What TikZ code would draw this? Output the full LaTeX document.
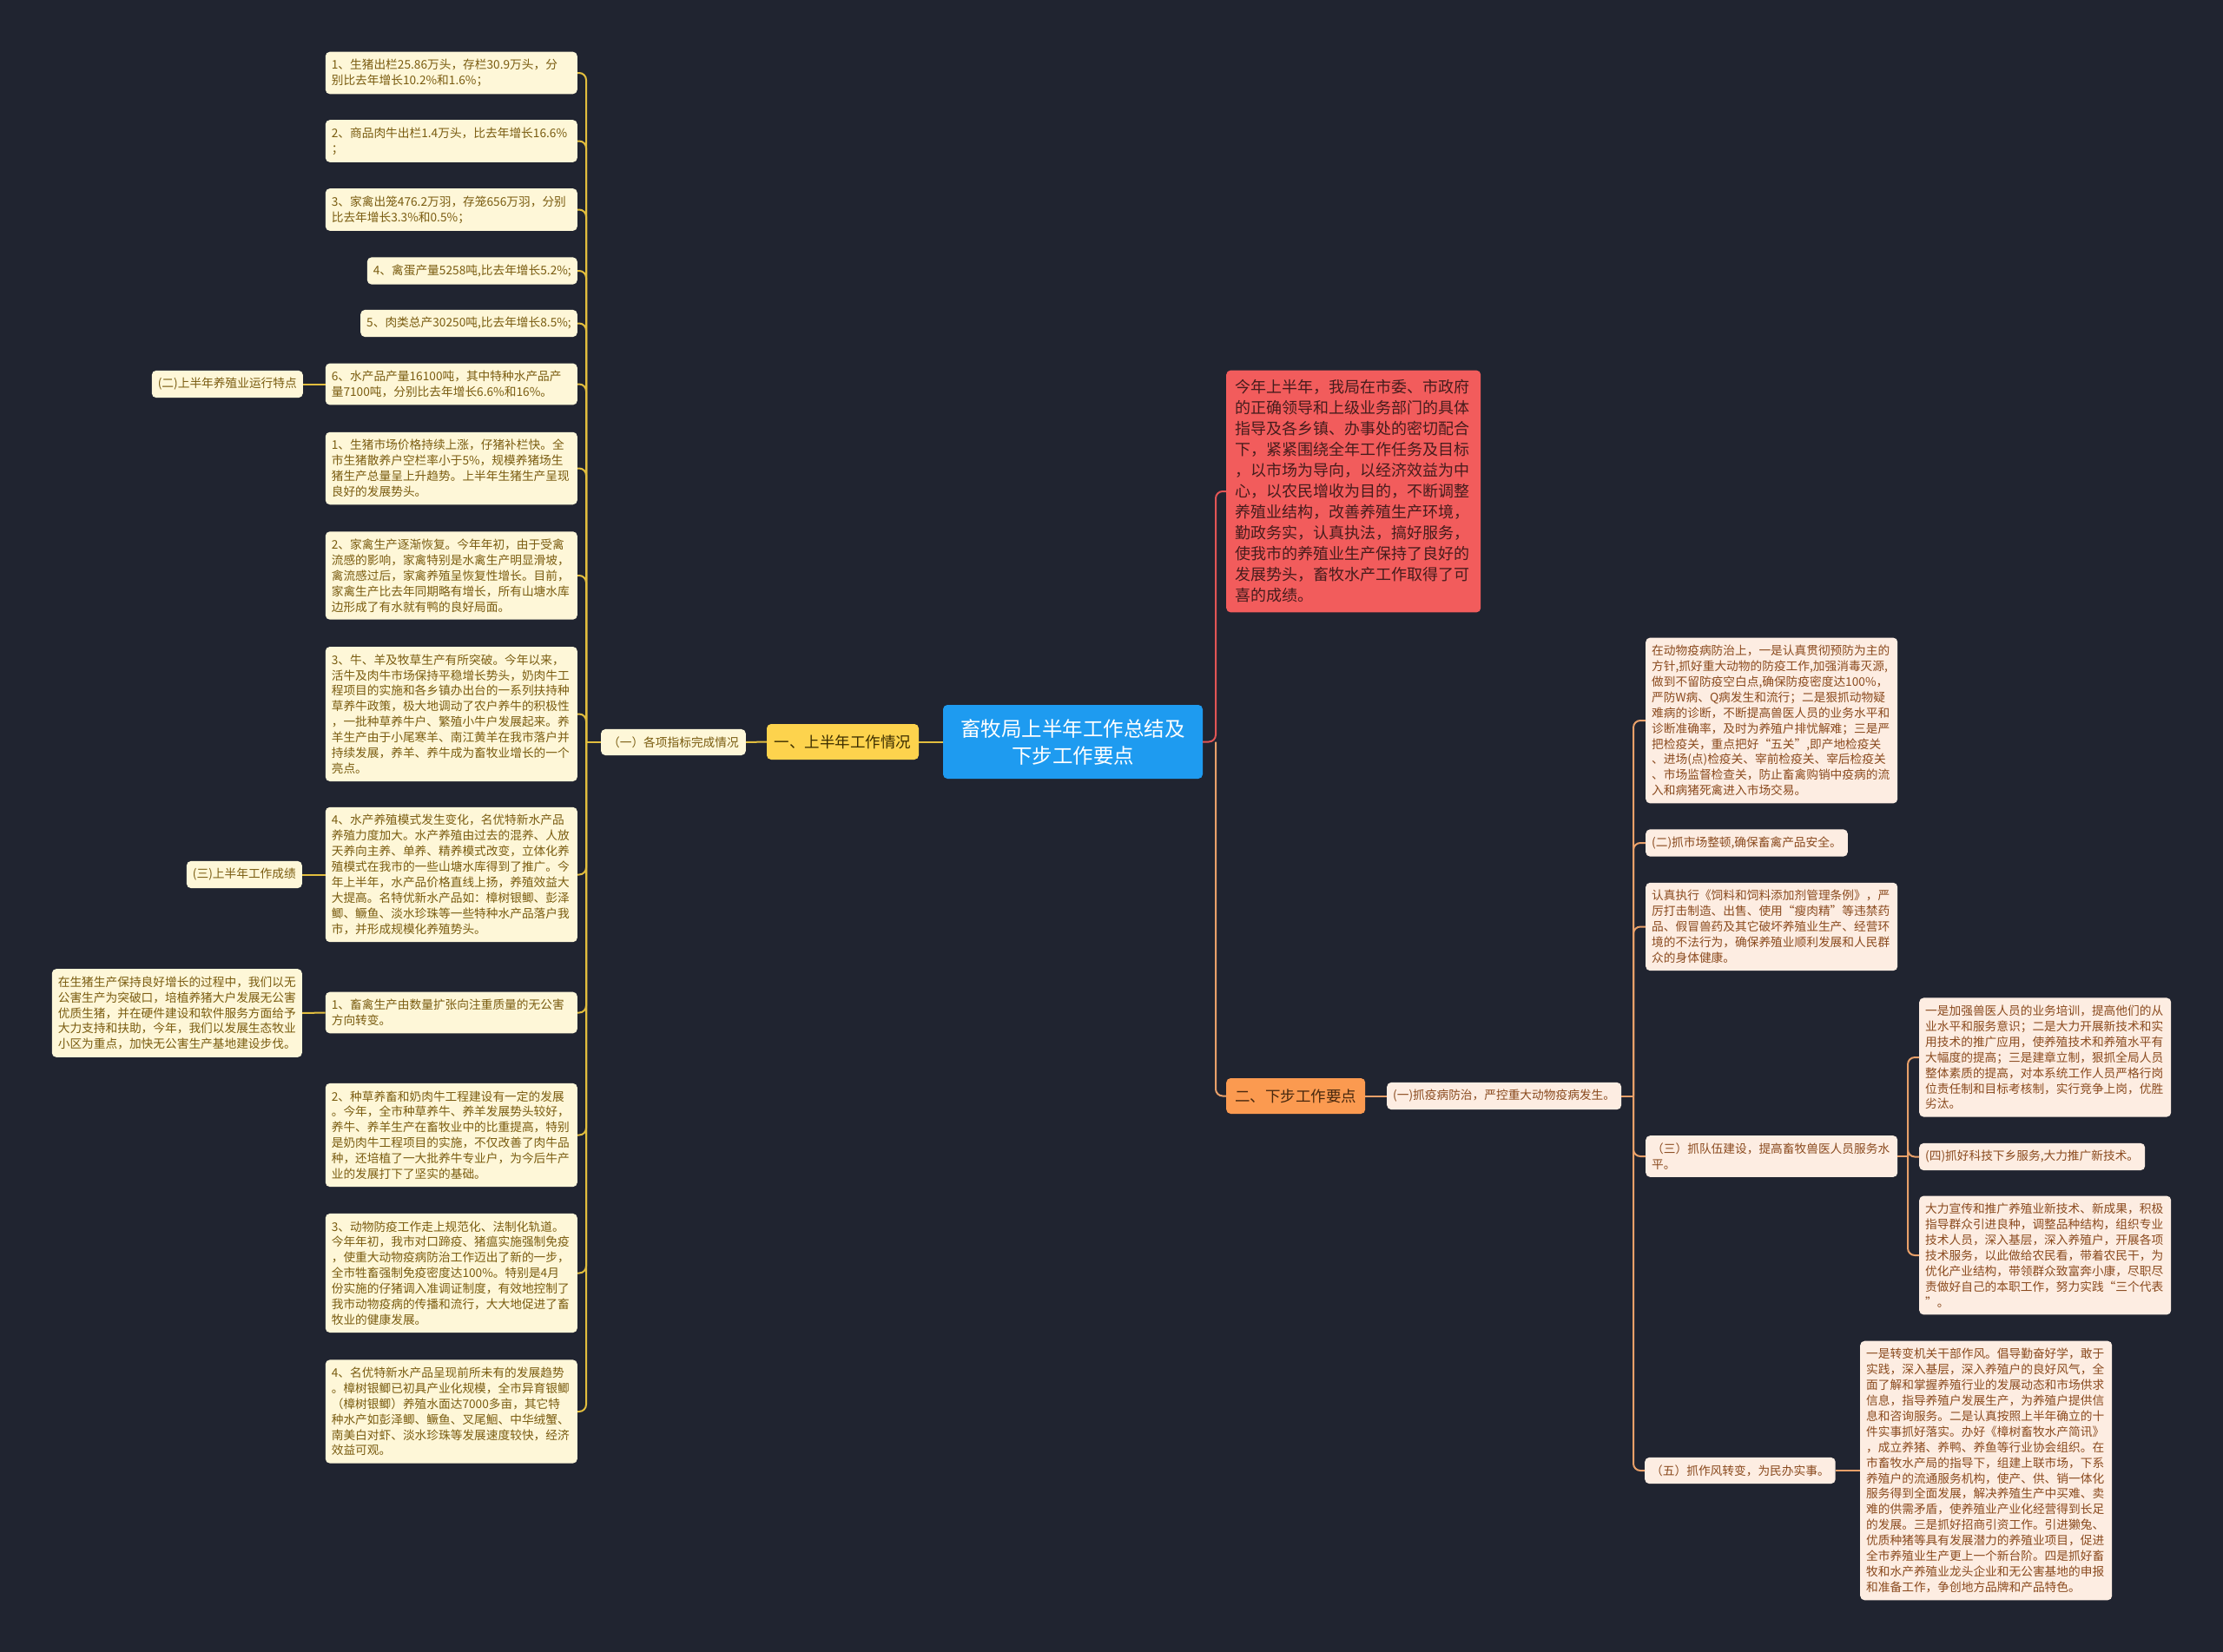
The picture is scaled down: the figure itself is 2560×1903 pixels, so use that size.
\documentclass[tikz,border=0pt]{standalone}
\usepackage{fontspec}
\usepackage{tikz}
\newfontfamily\cjkfont{Noto Sans CJK SC}

\definecolor{bgc}{RGB}{32,36,48}
\definecolor{hubblue}{RGB}{30,155,240}
\definecolor{redbox}{RGB}{242,92,92}
\definecolor{redtext}{RGB}{70,28,28}
\definecolor{yelbox}{RGB}{253,211,77}
\definecolor{yeltext}{RGB}{60,46,0}
\definecolor{orbox}{RGB}{251,154,80}
\definecolor{ortext}{RGB}{72,40,14}
\definecolor{creaml}{RGB}{254,247,216}
\definecolor{textl}{RGB}{122,92,16}
\definecolor{creamr}{RGB}{253,237,226}
\definecolor{textr}{RGB}{138,74,30}
\definecolor{goldline}{RGB}{226,190,62}
\definecolor{orline}{RGB}{232,160,105}
\definecolor{redline}{RGB}{225,85,85}

\tikzset{
  leafl/.style={fill=creaml, text=textl, rounded corners=5pt, inner xsep=7pt, inner ysep=8.5pt,
    align=left, font=\cjkfont\fontsize{13.7}{17.9}\selectfont},
  leaflw/.style={leafl, text width=276pt},
  leafr/.style={leafl, fill=creamr, text=textr},
  leafrw/.style={leafr, text width=276pt},
  hub/.style={fill=hubblue, text=white, rounded corners=5pt, minimum width=299pt, minimum height=85pt,
    align=center, font=\cjkfont\fontsize{23.5}{31}\selectfont},
  topic/.style={rounded corners=5pt, minimum height=41pt, inner xsep=6pt,
    font=\cjkfont\fontsize{17.5}{22}\selectfont},
  lgold/.style={draw=goldline, line width=2pt, rounded corners=8pt},
  lor/.style={draw=orline, line width=2pt, rounded corners=8pt},
  lred/.style={draw=redline, line width=2pt, rounded corners=8pt}
}

\begin{document}
\begin{tikzpicture}[x=1pt,y=-1pt]

% Background
\fill[bgc] (0,0) rectangle (2560,1903);
\useasboundingbox (0,0) rectangle (2560,1903);

% Central topic
\node[hub] (center) at (1235.5,854.5) {畜牧局上半年工作总结及\\下步工作要点};

% First half: main branch
\node[topic, fill=yelbox, text=yeltext, minimum width=175pt] (yel) at (970.5,854.5) {一、上半年工作情况};
\node[leafl, minimum height=28pt, inner xsep=8pt, anchor=east] (sub1) at (859,855) {（一）各项指标完成情况};

% Left column
\node[leaflw, anchor=east] (b1) at (665,84) {1、生猪出栏25.86万头，存栏30.9万头，分\\别比去年增长10.2\%和1.6\%；};
\node[leaflw, anchor=east] (b2) at (665,162.5) {2、商品肉牛出栏1.4万头，比去年增长16.6\%\\；};
\node[leaflw, anchor=east] (b3) at (665,241.5) {3、家禽出笼476.2万羽，存笼656万羽，分别\\比去年增长3.3\%和0.5\%；};
\node[leafl, anchor=east] (b4) at (665,312) {4、禽蛋产量5258吨,比去年增长5.2\%;};
\node[leafl, anchor=east] (b5) at (665,372.5) {5、肉类总产30250吨,比去年增长8.5\%;};
\node[leaflw, anchor=east] (b6) at (665,442.5) {6、水产品产量16100吨，其中特种水产品产\\量7100吨，分别比去年增长6.6\%和16\%。};
\node[leaflw, anchor=east] (b7) at (665,539.5) {1、生猪市场价格持续上涨，仔猪补栏快。全\\市生猪散养户空栏率小于5\%，规模养猪场生\\猪生产总量呈上升趋势。上半年生猪生产呈现\\良好的发展势头。};
\node[leaflw, anchor=east] (b8) at (665,663) {2、家禽生产逐渐恢复。今年年初，由于受禽\\流感的影响，家禽特别是水禽生产明显滑坡，\\禽流感过后，家禽养殖呈恢复性增长。目前，\\家禽生产比去年同期略有增长，所有山塘水库\\边形成了有水就有鸭的良好局面。};
\node[leaflw, anchor=east] (b9) at (665,822.5) {3、牛、羊及牧草生产有所突破。今年以来，\\活牛及肉牛市场保持平稳增长势头，奶肉牛工\\程项目的实施和各乡镇办出台的一系列扶持种\\草养牛政策，极大地调动了农户养牛的积极性\\，一批种草养牛户、繁殖小牛户发展起来。养\\羊生产由于小尾寒羊、南江黄羊在我市落户并\\持续发展，养羊、养牛成为畜牧业增长的一个\\亮点。};
\node[leaflw, anchor=east] (b10) at (665,1007.5) {4、水产养殖模式发生变化，名优特新水产品\\养殖力度加大。水产养殖由过去的混养、人放\\天养向主养、单养、精养模式改变，立体化养\\殖模式在我市的一些山塘水库得到了推广。今\\年上半年，水产品价格直线上扬，养殖效益大\\大提高。名特优新水产品如：樟树银鲫、彭泽\\鲫、鳜鱼、淡水珍珠等一些特种水产品落户我\\市，并形成规模化养殖势头。};
\node[leaflw, anchor=east] (b11) at (665,1166.5) {1、畜禽生产由数量扩张向注重质量的无公害\\方向转变。};
\node[leaflw, anchor=east] (b12) at (665,1307.5) {2、种草养畜和奶肉牛工程建设有一定的发展\\。今年，全市种草养牛、养羊发展势头较好，\\养牛、养羊生产在畜牧业中的比重提高，特别\\是奶肉牛工程项目的实施，不仅改善了肉牛品\\种，还培植了一大批养牛专业户，为今后牛产\\业的发展打下了坚实的基础。};
\node[leaflw, anchor=east] (b13) at (665,1466.5) {3、动物防疫工作走上规范化、法制化轨道。\\今年年初，我市对口蹄疫、猪瘟实施强制免疫\\，使重大动物疫病防治工作迈出了新的一步，\\全市牲畜强制免疫密度达100\%。特别是4月\\份实施的仔猪调入准调证制度，有效地控制了\\我市动物疫病的传播和流行，大大地促进了畜\\牧业的健康发展。};
\node[leaflw, anchor=east] (b14) at (665,1626) {4、名优特新水产品呈现前所未有的发展趋势\\。樟树银鲫已初具产业化规模，全市异育银鲫\\（樟树银鲫）养殖水面达7000多亩，其它特\\种水产如彭泽鲫、鳜鱼、叉尾鮰、中华绒蟹、\\南美白对虾、淡水珍珠等发展速度较快，经济\\效益可观。};

% Far left labels
\node[leafl, anchor=east] (er) at (349,442.5) {(二)上半年养殖业运行特点};
\node[leafl, anchor=east] (san) at (348,1007.5) {(三)上半年工作成绩};
\node[leaflw, anchor=east, text width=274pt] (zai) at (348,1167) {在生猪生产保持良好增长的过程中，我们以无\\公害生产为突破口，培植养猪大户发展无公害\\优质生猪，并在硬件建设和软件服务方面给予\\大力支持和扶助，今年，我们以发展生态牧业\\小区为重点，加快无公害生产基地建设步伐。};

% Right: summary and next steps
\node[fill=redbox, text=redtext, rounded corners=5pt, inner xsep=10pt, inner ysep=11pt, text width=273pt,
  align=left, font=\cjkfont\fontsize{18}{24}\selectfont, anchor=west] (red) at (1412,566) {今年上半年，我局在市委、市政府\\的正确领导和上级业务部门的具体\\指导及各乡镇、办事处的密切配合\\下，紧紧围绕全年工作任务及目标\\，以市场为导向，以经济效益为中\\心，以农民增收为目的，不断调整\\养殖业结构，改善养殖生产环境，\\勤政务实，认真执法，搞好服务，\\使我市的养殖业生产保持了良好的\\发展势头，畜牧水产工作取得了可\\喜的成绩。};
\node[topic, fill=orbox, text=ortext, minimum width=160pt, anchor=west] (two) at (1412,1262.5) {二、下步工作要点};
\node[leafr, minimum height=31pt, anchor=west] (r0) at (1597,1262.5) {(一)抓疫病防治，严控重大动物疫病发生。};

% Right column
\node[leafrw, anchor=west] (R1) at (1895,830) {在动物疫病防治上，一是认真贯彻预防为主的\\方针,抓好重大动物的防疫工作,加强消毒灭源,\\做到不留防疫空白点,确保防疫密度达100\%，\\严防W病、Q病发生和流行；二是狠抓动物疑\\难病的诊断，不断提高兽医人员的业务水平和\\诊断准确率，及时为养殖户排忧解难；三是严\\把检疫关，重点把好“五关”,即产地检疫关\\、进场(点)检疫关、宰前检疫关、宰后检疫关\\、市场监督检查关，防止畜禽购销中疫病的流\\入和病猪死禽进入市场交易。};
\node[leafr, anchor=west] (R2) at (1895,971) {(二)抓市场整顿,确保畜禽产品安全。};
\node[leafrw, anchor=west] (R3) at (1895,1067.5) {认真执行《饲料和饲料添加剂管理条例》，严\\厉打击制造、出售、使用“瘦肉精”等违禁药\\品、假冒兽药及其它破坏养殖业生产、经营环\\境的不法行为，确保养殖业顺利发展和人民群\\众的身体健康。};
\node[leafrw, anchor=west] (R4) at (1895,1332) {（三）抓队伍建设，提高畜牧兽医人员服务水\\平。};
\node[leafrw, anchor=west] (R5) at (2210,1218) {一是加强兽医人员的业务培训，提高他们的从\\业水平和服务意识；二是大力开展新技术和实\\用技术的推广应用，使养殖技术和养殖水平有\\大幅度的提高；三是建章立制，狠抓全局人员\\整体素质的提高，对本系统工作人员严格行岗\\位责任制和目标考核制，实行竞争上岗，优胜\\劣汰。};
\node[leafr, anchor=west] (R6) at (2210,1332.5) {(四)抓好科技下乡服务,大力推广新技术。};
\node[leafrw, anchor=west] (R7) at (2210,1446) {大力宣传和推广养殖业新技术、新成果，积极\\指导群众引进良种，调整品种结构，组织专业\\技术人员，深入基层，深入养殖户，开展各项\\技术服务，以此做给农民看，带着农民干，为\\优化产业结构，带领群众致富奔小康，尽职尽\\责做好自己的本职工作，努力实践“三个代表\\”。};
\node[leafr, anchor=west] (R8) at (1894,1694) {（五）抓作风转变，为民办实事。};
\node[leafrw, anchor=west] (R9) at (2142,1694) {一是转变机关干部作风。倡导勤奋好学，敢于\\实践，深入基层，深入养殖户的良好风气，全\\面了解和掌握养殖行业的发展动态和市场供求\\信息，指导养殖户发展生产，为养殖户提供信\\息和咨询服务。二是认真按照上半年确立的十\\件实事抓好落实。办好《樟树畜牧水产简讯》\\，成立养猪、养鸭、养鱼等行业协会组织。在\\市畜牧水产局的指导下，组建上联市场，下系\\养殖户的流通服务机构，使产、供、销一体化\\服务得到全面发展，解决养殖生产中买难、卖\\难的供需矛盾，使养殖业产业化经营得到长足\\的发展。三是抓好招商引资工作。引进獭兔、\\优质种猪等具有发展潜力的养殖业项目，促进\\全市养殖业生产更上一个新台阶。四是抓好畜\\牧和水产养殖业龙头企业和无公害基地的申报\\和准备工作，争创地方品牌和产品特色。};

% Spine points
\coordinate (lsp) at (675,855);
\coordinate (csp) at (1400,854.5);
\coordinate (rsp) at (1881,1262.5);
\coordinate (ssp) at (2197,1332);

% Connectors, left
\draw[lgold] (center.west) -- (yel.east);
\draw[lgold] (yel.west) -- (sub1.east);
\draw[lgold] (sub1.west) -- (lsp);
\foreach \n in {1,...,14}
{
\draw[lgold] (lsp) |- (b\n.east);
}
\draw[lgold] (b6.west) -- (er.east);
\draw[lgold] (b10.west) -- (san.east);
\draw[lgold] (b11.west) -- (zai.east);

% Connectors, right
\draw[lor] (csp) |- (two.west);
\draw[lred] (center.east) -- (csp) |- (red.west);
\draw[lor] (two.east) -- (r0.west);
\draw[lor] (r0.east) -- (rsp);
\foreach \n in {R1,R2,R3,R4,R8}
{
\draw[lor] (rsp) |- (\n.west);
}
\draw[lor] (R4.east) -- (ssp);
\foreach \n in {R5,R6,R7}
{
\draw[lor] (ssp) |- (\n.west);
}
\draw[lor] (R8.east) -- (R9.west);

\end{tikzpicture}
\end{document}
